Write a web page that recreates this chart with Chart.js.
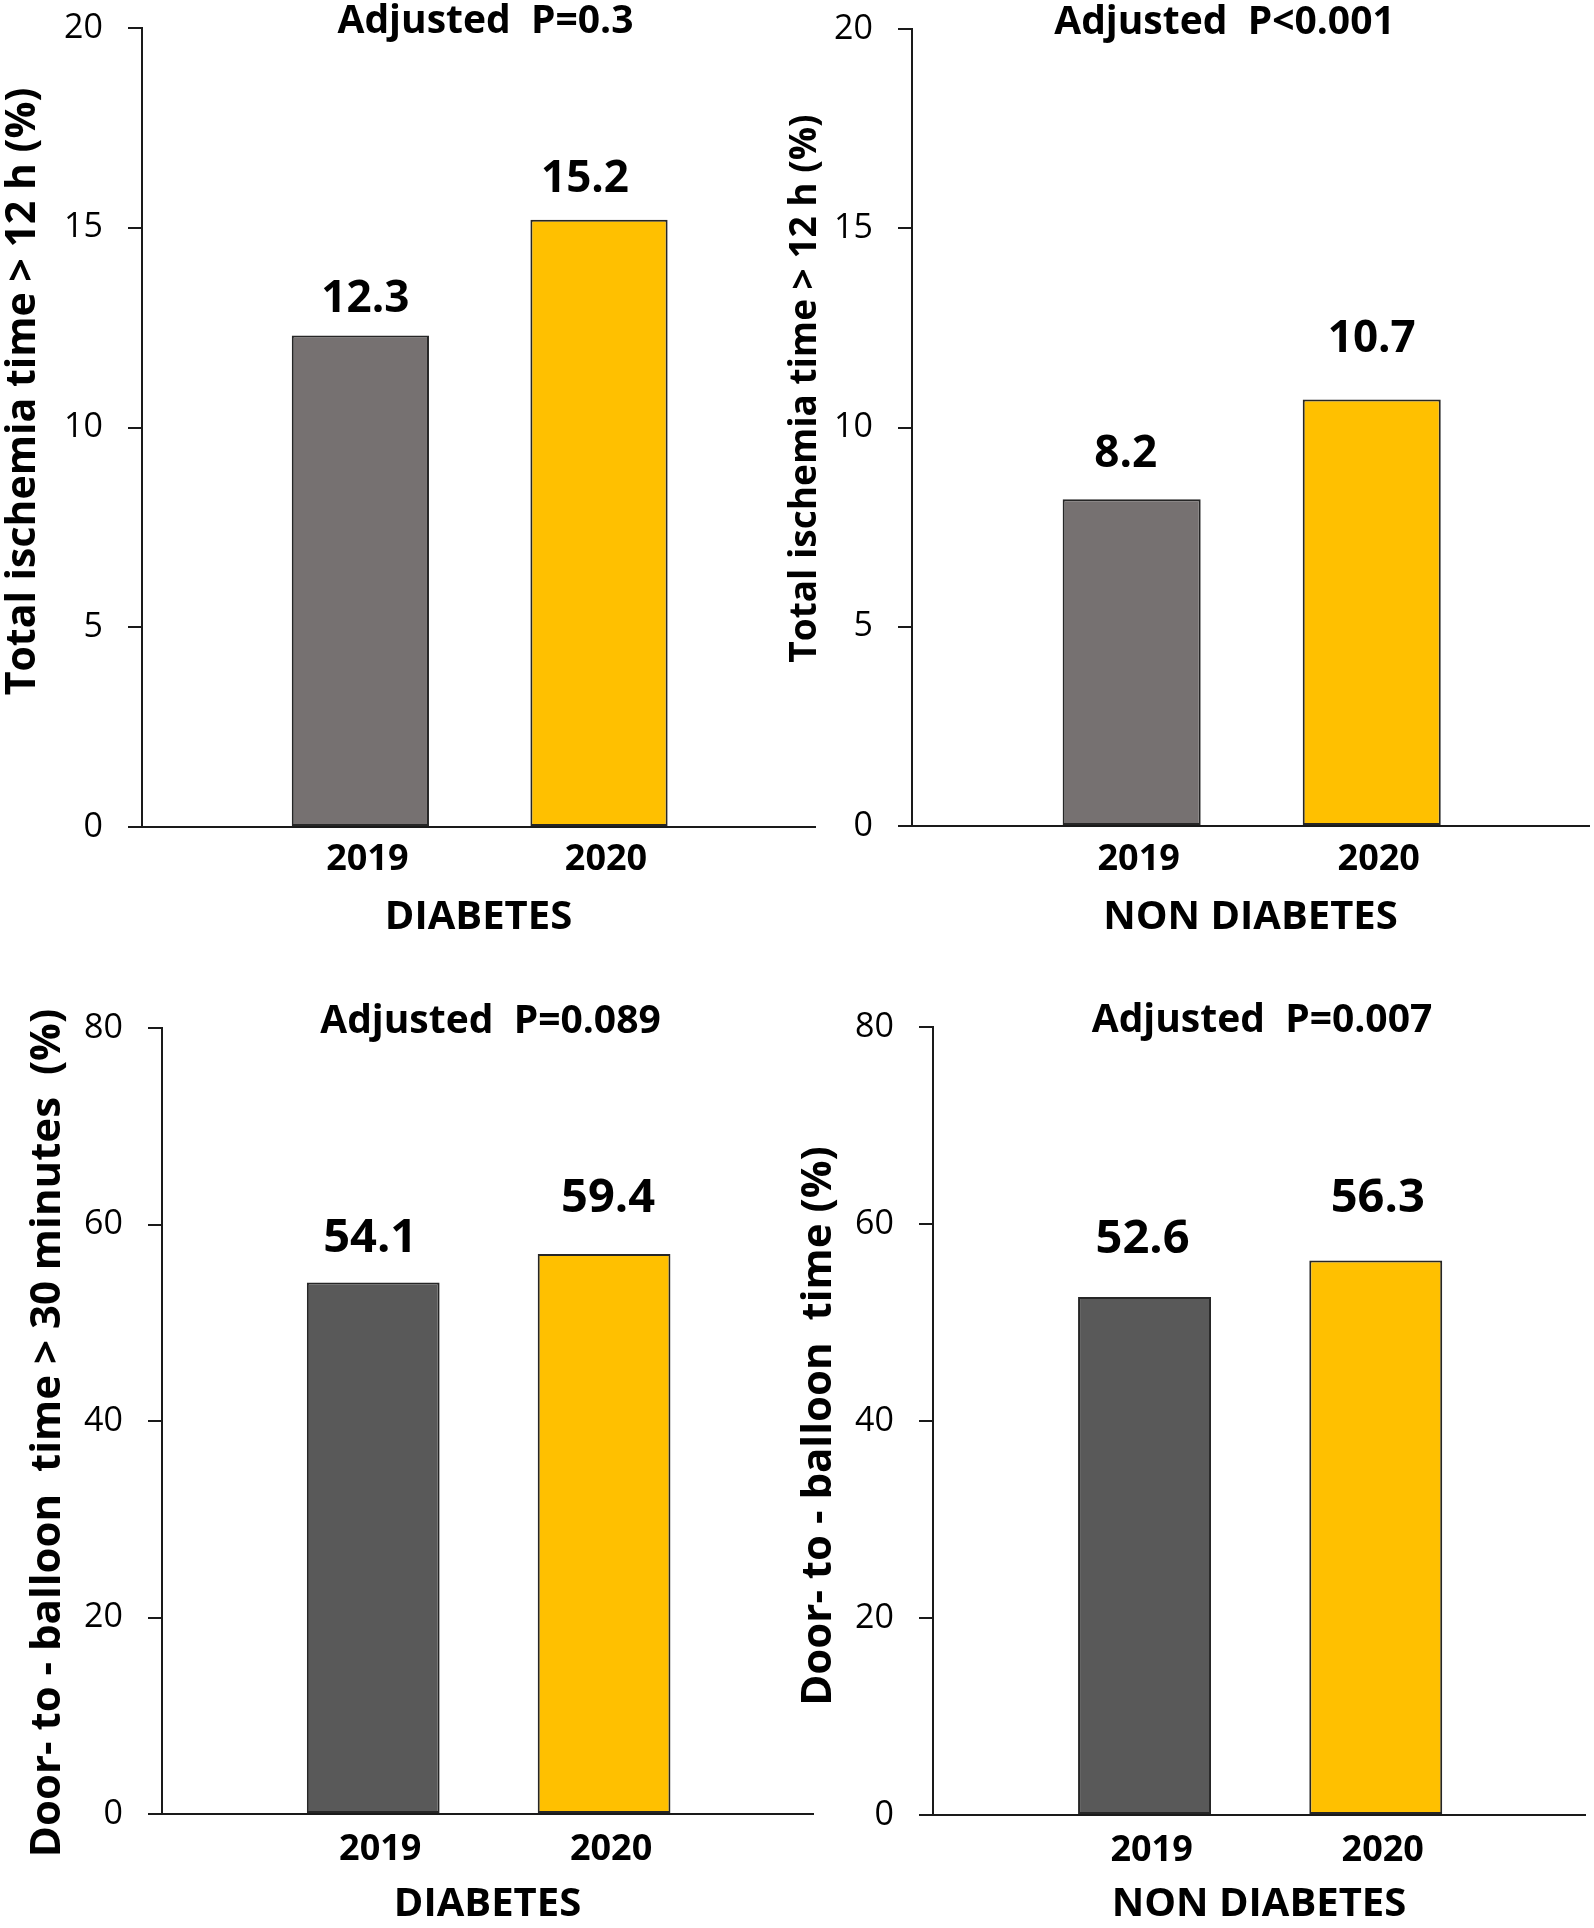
<!DOCTYPE html>
<html>
<head>
<meta charset="utf-8">
<title>Total ischemia time and door-to-balloon time, 2019 vs 2020</title>
<script src="https://cdn.jsdelivr.net/npm/chart.js@4.4.1/dist/chart.umd.min.js"></script>
<style>
  html, body { margin: 0; padding: 0; background: #fff; }
  #page { position: relative; width: 1594px; height: 1928px; overflow: hidden; background: #fff; }
  canvas { position: absolute; }
</style>
</head>
<body>
<div id="page">
  <canvas id="ischemiaDiabetes" width="830" height="964" style="left:0px;top:0px"></canvas>
  <canvas id="ischemiaNonDiabetes" width="814" height="964" style="left:780px;top:0px"></canvas>
  <canvas id="doorDiabetes" width="830" height="964" style="left:0px;top:964px"></canvas>
  <canvas id="doorNonDiabetes" width="814" height="964" style="left:780px;top:964px"></canvas>
</div>
<script>
// categories
const years = ["2019", "2020"];
const groups = ["DIABETES", "NON DIABETES"];

// total ischemia time > 12 h (%)
const ischemiaTicks = [0, 5, 10, 15, 20];
const ischemiaDiabetes = [12.3, 15.2];
const ischemiaNonDiabetes = [8.2, 10.7];
const ischemiaDiabetesLabels = ["12.3", "15.2"];
const ischemiaNonDiabetesLabels = ["8.2", "10.7"];

// door-to-balloon time > 30 min (%)
const doorTicks = [0, 20, 40, 60, 80];
const doorDiabetes = [54.1, 57.0]; // 2020 bar is drawn at ~57 in the figure, printed as 59.4
const doorNonDiabetes = [52.6, 56.3];
const doorDiabetesLabels = ["54.1", "59.4"];
const doorNonDiabetesLabels = ["52.6", "56.3"];

const pValues = ["Adjusted  P=0.3", "Adjusted  P<0.001", "Adjusted  P=0.089", "Adjusted  P=0.007"];
const yTitles = [
  "Total ischemia time > 12 h (%)",
  "Total ischemia time > 12 h (%)",
  "Door- to - balloon  time > 30 minutes  (%)",
  "Door- to - balloon  time (%)",
];

const FONT = "'Open Sans', 'DejaVu Sans', sans-serif";
const YELLOW = "#FFC000";
const EDGE = "#262626";
const AXIS = "#1a1a1a";

// draws panel title, rotated y title and the value labels above bars
const panelText = {
  id: "panelText",
  afterDatasetsDraw(chart, args, opts) {
    const { ctx, chartArea } = chart;
    const cx = (chartArea.left + chartArea.right) / 2;
    const cy = (chartArea.top + chartArea.bottom) / 2;
    ctx.save();
    ctx.fillStyle = "#000";
    ctx.textBaseline = "alphabetic";
    ctx.textAlign = "center";

    ctx.font = `bold 39px ${FONT}`;
    ctx.fillText(opts.title, cx + opts.titleDx, chartArea.top + 5);

    ctx.font = `bold ${opts.labelSize}px ${FONT}`;
    chart.getDatasetMeta(0).data.forEach((bar, i) => {
      ctx.fillText(opts.labels[i], bar.x + opts.shifts[i], bar.y - opts.gaps[i]);
    });

    ctx.translate(chartArea.left + opts.yTitleDx, cy + opts.yTitleDy);
    ctx.rotate(-Math.PI / 2);
    ctx.font = `bold ${opts.yTitleSize}px ${FONT}`;
    ctx.fillText(opts.yTitle, 0, 0);
    ctx.restore();
  },
};

function makePanel(id, p) {
  return new Chart(document.getElementById(id), {
    type: "bar",
    data: {
      datasets: [
        {
          data: p.values.map((v, i) => ({ x: i, y: v })),
          backgroundColor: [p.gray, YELLOW],
          borderColor: EDGE,
          borderWidth: 2,
          borderSkipped: false,
          barPercentage: 0.575,
          categoryPercentage: 1,
        },
      ],
    },
    options: {
      responsive: false,
      animation: false,
      layout: { padding: { top: p.top, right: p.right, bottom: 0, left: 0 } },
      plugins: {
        legend: { display: false },
        tooltip: { enabled: false },
        panelText: p.text,
      },
      scales: {
        x: {
          type: "linear",
          offset: false,
          min: -0.915,
          max: 1.905,
          afterBuildTicks: (s) => {
            s.ticks = years.map((_, i) => ({ value: i }));
          },
          afterFit: (s) => {
            s.height = p.xHeight;
            s.paddingLeft = 0;
            s.paddingRight = 0;
          },
          grid: { display: false, drawTicks: false, offset: false },
          border: { display: true, color: AXIS, width: 2 },
          ticks: {
            callback: (v) => years[v],
            color: "#000",
            font: { family: FONT, weight: "bold", size: 36, lineHeight: 1 },
            padding: p.xTickPad,
            labelOffset: 7,
            maxRotation: 0,
          },
          title: {
            display: true,
            text: p.group,
            color: "#000",
            font: { family: FONT, weight: "bold", size: 40, lineHeight: 1 },
            padding: { top: 0, bottom: p.groupPad },
          },
        },
        y: {
          min: p.ticks[0],
          max: p.ticks[p.ticks.length - 1],
          afterBuildTicks: (s) => {
            s.ticks = p.ticks.map((v) => ({ value: v }));
          },
          afterFit: (s) => {
            s.width = p.yWidth;
            s.paddingTop = 0;
            s.paddingBottom = 0;
          },
          grid: { drawOnChartArea: false, drawTicks: true, tickLength: 14, color: AXIS, lineWidth: 2 },
          border: { display: true, color: AXIS, width: 2 },
          ticks: {
            color: "#000",
            font: { family: FONT, size: 34, lineHeight: 1 },
            padding: p.yTickPad,
          },
        },
      },
    },
    plugins: [panelText],
  });
}

function drawAll() {
  makePanel("ischemiaDiabetes", {
    values: ischemiaDiabetes, ticks: ischemiaTicks, gray: "#767171", group: groups[0],
    top: 28, right: 15, xHeight: 137, yWidth: 142, xTickPad: 15, groupPad: 26, yTickPad: 25,
    text: {
      title: pValues[0], titleDx: 7, labels: ischemiaDiabetesLabels, gaps: [24, 28], shifts: [5, -14], labelSize: 44,
      yTitle: yTitles[0], yTitleSize: 41, yTitleDx: -107, yTitleDy: -36,
    },
  });
  makePanel("ischemiaNonDiabetes", {
    values: ischemiaNonDiabetes, ticks: ischemiaTicks, gray: "#767171", group: groups[1],
    top: 29, right: 5, xHeight: 138, yWidth: 132, xTickPad: 16, groupPad: 26, yTickPad: 25,
    text: {
      title: pValues[1], titleDx: -26, labels: ischemiaNonDiabetesLabels, gaps: [32, 48], shifts: [-6, 0], labelSize: 44,
      yTitle: yTitles[1], yTitleSize: 37, yTitleDx: -96, yTitleDy: -39,
    },
  });
  makePanel("doorDiabetes", {
    values: doorDiabetes, ticks: doorTicks, gray: "#595959", group: groups[0],
    top: 64, right: 17, xHeight: 114, yWidth: 162, xTickPad: 18, groupPad: 3, yTickPad: 25,
    text: {
      title: pValues[2], titleDx: 3, labels: doorDiabetesLabels, gaps: [30, 42], shifts: [-3, 4], labelSize: 47,
      yTitle: yTitles[2], yTitleSize: 42, yTitleDx: -102, yTitleDy: 12,
    },
  });
  makePanel("doorNonDiabetes", {
    values: doorNonDiabetes, ticks: doorTicks, gray: "#595959", group: groups[1],
    top: 63, right: 9, xHeight: 113, yWidth: 153, xTickPad: 18, groupPad: 3, yTickPad: 25,
    text: {
      title: pValues[3], titleDx: 3, labels: doorNonDiabetesLabels, gaps: [44, 48], shifts: [-2, 2], labelSize: 47,
      yTitle: yTitles[3], yTitleSize: 42, yTitleDx: -102, yTitleDy: 5,
    },
  });
}

Promise.all([
  document.fonts.load(`34px ${FONT}`),
  document.fonts.load(`bold 40px ${FONT}`),
]).then(drawAll, drawAll);
</script>
</body>
</html>
